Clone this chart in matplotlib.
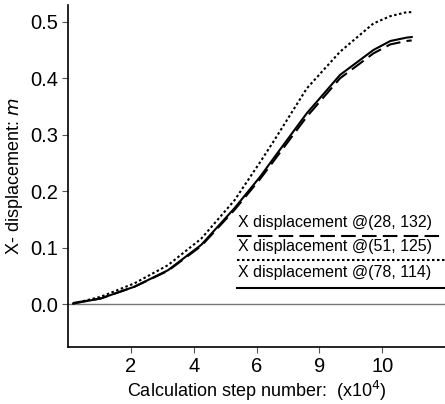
import numpy as np
import matplotlib
matplotlib.use("Agg")
import matplotlib.pyplot as plt

plt.rcParams['font.family'] = ['Liberation Sans', 'DejaVu Sans']

# x positions are tick slots (1..5 carry the labels below)
tick_labels = ['2', '4', '6', '9', '10']
steps = [0.08, 0.52, 1.06, 1.59, 2.12, 2.65, 3.06, 3.27, 3.80, 4.33, 4.86, 5.13, 5.39, 5.47]

disp_28_132 = [0.002, 0.010, 0.031, 0.059, 0.103, 0.167, 0.222, 0.253, 0.332, 0.400, 0.444, 0.460, 0.466, 0.467]
disp_51_125 = [0.001, 0.013, 0.037, 0.069, 0.116, 0.184, 0.252, 0.288, 0.382, 0.447, 0.497, 0.510, 0.517, 0.517]
disp_78_114 = [0.001, 0.010, 0.031, 0.060, 0.105, 0.170, 0.226, 0.258, 0.338, 0.406, 0.450, 0.466, 0.472, 0.473]

labels = ['X displacement @(28, 132)', 'X displacement @(51, 125)', 'X displacement @(78, 114)']
styles = [(0, (7, 3)), (0, (1.2, 1.2)), '-']

fig = plt.figure(figsize=(4.45, 4.04), dpi=100)
ax = fig.add_axes([0.153, 0.141, 0.847, 0.847])

ax.axhline(0, color='#777777', lw=1.0, zorder=1)

series = [disp_28_132, disp_51_125, disp_78_114]
for ys, ls in zip(series, styles):
    ax.plot(steps, ys, color='black', lw=1.5, linestyle=ls, zorder=3)

# legend: text sits above its line sample
text_y = [0.365, 0.295, 0.219]
line_y = [0.325, 0.254, 0.173]
for lab, ls, ty, ly in zip(labels, styles, text_y, line_y):
    ax.text(0.45, ty, lab, transform=ax.transAxes, fontsize=11.5, va='center', ha='left')
    ax.plot([0.448, 1.0], [ly, ly], transform=ax.transAxes, color='black',
            lw=1.5, linestyle=ls, clip_on=False)

ax.set_xlim(0, 6)
ax.set_ylim(-0.076, 0.53)
ax.set_xticks(range(1, 6))
ax.set_xticklabels(tick_labels)
ax.set_yticks([0.0, 0.1, 0.2, 0.3, 0.4, 0.5])
ax.set_yticklabels(['0.0', '0.1', '0.2', '0.3', '0.4', '0.5'])
ax.tick_params(labelsize=14.5, length=4, width=0.8, color='#555555', pad=3)

for s in ['top', 'right']:
    ax.spines[s].set_visible(False)
for s in ['left', 'bottom']:
    ax.spines[s].set_linewidth(1.2)

ax.set_xlabel('Calculation step number:  (x10$^4$)', fontsize=13, labelpad=2)
ax.set_ylabel('X- displacement: $\\mathit{m}$', fontsize=13, labelpad=4)

fig.savefig('out.png', dpi=100)
